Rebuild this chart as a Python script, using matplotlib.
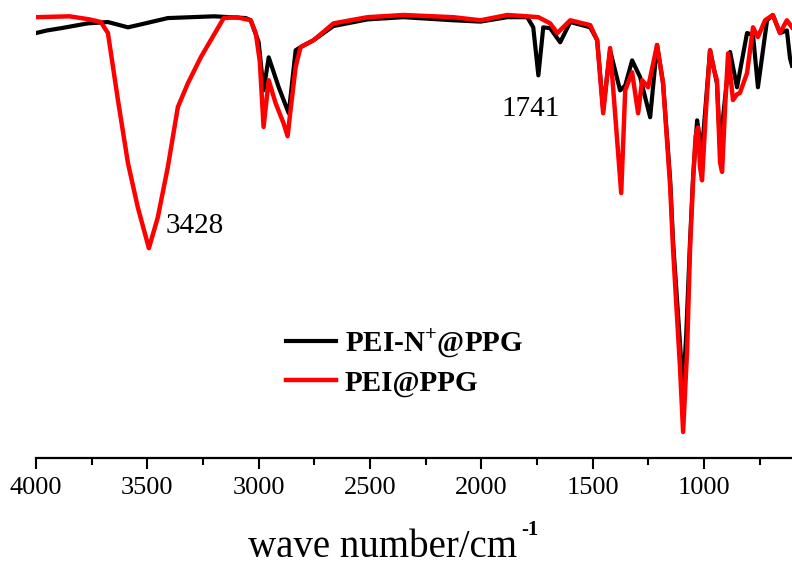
import numpy as np
import matplotlib
matplotlib.use("Agg")
from matplotlib import pyplot as plt
from matplotlib.ticker import MultipleLocator

plt.rcParams['font.family'] = ['Liberation Serif', 'DejaVu Serif']
plt.rcParams['mathtext.fontset'] = 'custom'
plt.rcParams['mathtext.rm'] = 'Liberation Serif'
plt.rcParams['mathtext.bf'] = 'Liberation Serif:bold'

# PEI@PPG (red) : wavenumber / cm-1, transmittance (a.u.)
red_wn = [4000, 3850, 3760, 3709, 3677, 3632, 3587, 3543, 3493, 3453, 3408, 3363,
          3318, 3260, 3215, 3157, 3100, 3036, 3013, 2995, 2978, 2955, 2924, 2888,
          2870, 2857, 2834, 2812, 2753, 2664, 2511, 2350, 2126, 2004, 1883, 1794,
          1744, 1691, 1659, 1601, 1511, 1480, 1453, 1422, 1372, 1354, 1323, 1296,
          1278, 1251, 1211, 1184, 1152, 1139, 1108, 1094, 1076, 1063, 1049, 1038,
          1027, 1018, 1009, 990, 973, 955, 942, 928, 919, 905, 892, 870, 852, 839,
          807, 780, 758, 726, 691, 659, 628, 605]
red_t = [100.0, 100.2, 99.5, 98.9, 96.4, 81.2, 66.9, 56.9, 47.6, 54.6, 66.0, 79.6,
         85.0, 90.9, 94.8, 99.8, 100.0, 99.3, 96.4, 90.0, 75.1, 85.7, 80.5, 75.9,
         73.0, 78.9, 88.7, 93.2, 94.8, 98.6, 100.0, 100.5, 100.0, 99.3, 100.5, 100.2,
         100.0, 98.6, 96.4, 99.3, 98.2, 94.8, 78.2, 93.0, 60.1, 83.4, 87.5, 78.2,
         85.7, 84.1, 93.7, 85.0, 61.5, 47.2, 20.6, 5.9, 24.5, 47.2, 63.0, 73.0,
         75.0, 66.0, 63.0, 80.0, 92.5, 88.0, 85.7, 67.0, 64.9, 80.0, 91.8, 81.2, 82.5, 82.8,
         87.3, 97.7, 95.5, 99.3, 100.5, 96.4, 99.3, 97.7]

# PEI-N+@PPG (black)
blk_wn = [4000, 3950, 3888, 3767, 3677, 3587, 3543, 3408, 3200, 3058, 3036, 3000,
          2978, 2955, 2910, 2865, 2834, 2812, 2753, 2664, 2511, 2350, 2126, 2004,
          1883, 1794, 1767, 1744, 1722, 1691, 1646, 1601, 1511, 1480, 1453, 1422,
          1377, 1354, 1323, 1287, 1242, 1211, 1184, 1152, 1139, 1108, 1094, 1080,
          1063, 1049, 1031, 1018, 1009, 973, 942, 928, 905, 883, 852, 807, 780,
          758, 717, 691, 659, 628, 614, 605]
blk_t = [96.4, 97.0, 97.5, 98.6, 98.9, 97.7, 98.2, 99.8, 100.2, 99.8, 99.3, 94.3,
         83.4, 90.9, 84.1, 78.2, 92.5, 93.2, 94.8, 98.0, 99.5, 100.0, 99.3, 99.0,
         100.0, 100.0, 97.7, 86.8, 97.7, 97.5, 94.3, 98.9, 97.7, 94.8, 79.0, 92.5,
         83.4, 84.5, 90.2, 86.4, 77.3, 93.7, 85.0, 63.0, 49.0, 26.0, 15.4, 28.0,
         49.0, 64.0, 76.6, 72.0, 69.8, 92.5, 85.0, 70.5, 82.0, 92.1, 84.1, 96.4, 96.0,
         84.1, 99.3, 100.5, 96.4, 97.0, 90.7, 89.0]

tick_pos = [4000, 3500, 3000, 2500, 2000, 1500, 1000]
tick_lab = ["4000", "3500", "3000", "2500", "2000", "1500", "1000"]

fig = plt.figure(figsize=(7.92, 5.65), dpi=100)
ax = fig.add_axes([36 / 792, 107 / 565, 756 / 792, 458 / 565])

ax.plot(blk_wn, blk_t, color="black", lw=3.0, label=r"PEI-N$^{\mathbf{+}}$@PPG")
ax.plot(red_wn, red_t, color="red", lw=3.2, label="PEI@PPG")

ax.set_xlim(4000, 605)
ax.set_ylim(0, 103.9)

for s in ['left', 'right', 'top']:
    ax.spines[s].set_visible(False)
ax.spines['bottom'].set_linewidth(1.6)
ax.set_yticks([])
ax.set_xticks(tick_pos, tick_lab, fontfamily='Liberation Serif')
ax.xaxis.set_minor_locator(MultipleLocator(250))
ax.tick_params(axis='x', which='major', direction='out', length=8, width=1.5, labelsize=19, pad=6)
ax.tick_params(axis='x', which='minor', direction='out', length=5, width=1.5)

# axis title, superscript drawn as a separate small bold text
ax.set_xlabel("wave number/cm", fontsize=28, fontfamily='Liberation Serif')
ax.xaxis.set_label_coords(0.459, -0.155)
fig.text(521 / 792, 1 - 520 / 565, "-1", fontsize=15, fontweight='bold',
         fontfamily='Liberation Serif', va='top', ha='left')

ax.text(3420, 51, "3428", fontsize=21)
ax.text(1910, 77.5, "1741", fontsize=21)

leg = ax.legend(loc="upper left", bbox_to_anchor=(224 / 756, 158 / 458), frameon=False,
                prop={'weight': 'bold', 'size': 21, 'family': 'Liberation Serif'},
                handlelength=1.7, handletextpad=0.3, labelspacing=0.35)

fig.savefig("out.png", dpi=100)
